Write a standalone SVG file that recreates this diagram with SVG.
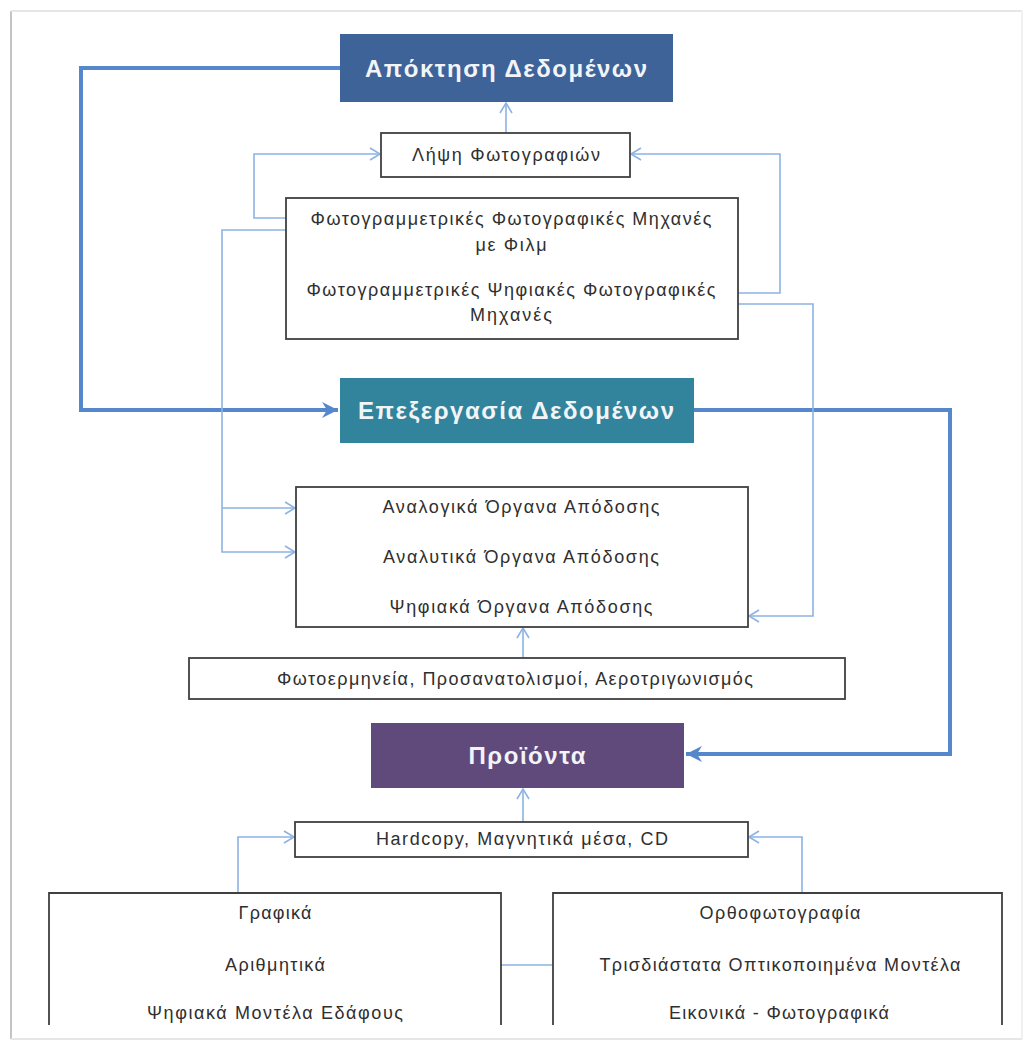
<svg xmlns="http://www.w3.org/2000/svg" width="1026" height="1041" viewBox="0 0 1026 1041">
<style>
.bg{fill:#ffffff}
.box{fill:#ffffff;stroke:#404040;stroke-width:1.8}
.obox{fill:none;stroke:#404040;stroke-width:1.8}
.t{font-family:"Liberation Sans",Arial,sans-serif;font-size:18px;fill:#2f2f2f;text-anchor:middle}
.h{font-family:"Liberation Sans",Arial,sans-serif;font-size:24px;font-weight:bold;fill:#f2f4f7;text-anchor:middle}
.thin{fill:none;stroke:#8db3e2;stroke-width:1.6}
.thick{fill:none;stroke:#5487cc;stroke-width:4}
</style>
<defs>
<marker id="a" markerUnits="userSpaceOnUse" markerWidth="14" markerHeight="16" refX="11" refY="7" orient="auto">
<path d="M1,1 L11,7 L1,13" fill="none" stroke="#8db3e2" stroke-width="1.6"/>
</marker>
<marker id="A" markerUnits="userSpaceOnUse" markerWidth="20" markerHeight="20" refX="16" refY="9" orient="auto">
<path d="M0,1 L16,9 L0,17 L5,9 Z" fill="#5487cc"/>
</marker>
</defs>
<rect class="bg" x="0" y="0" width="1026" height="1041"/>
<g id="frame">
<line x1="11" y1="11" x2="11" y2="1039" stroke="#c4c4c4" stroke-width="2"/>
<line x1="11" y1="11" x2="1022" y2="11" stroke="#e6e6e6" stroke-width="2"/>
<line x1="1022" y1="11" x2="1022" y2="1039" stroke="#f0f0f0" stroke-width="2"/>
<line x1="11" y1="1039" x2="1022" y2="1039" stroke="#e6e6e6" stroke-width="2"/>
</g>
<g id="connectors">
<path class="thick" d="M340,68 H81 V410 H338" marker-end="url(#A)"/>
<path class="thick" d="M694,410 H950 V754 H686" marker-end="url(#A)"/>
<path class="thin" d="M506,133 V103" marker-end="url(#a)"/>
<path class="thin" d="M286,218 H254 V154 H380" marker-end="url(#a)"/>
<path class="thin" d="M738,293 H780 V154 H631" marker-end="url(#a)"/>
<path class="thin" d="M286,230 H222 V552 H295" marker-end="url(#a)"/>
<path class="thin" d="M222,508 H295" marker-end="url(#a)"/>
<path class="thin" d="M738,304 H813 V616 H749" marker-end="url(#a)"/>
<path class="thin" d="M523,658 V628" marker-end="url(#a)"/>
<path class="thin" d="M523,822 V789" marker-end="url(#a)"/>
<path class="thin" d="M238,893 V837 H294" marker-end="url(#a)"/>
<path class="thin" d="M802,893 V837 H749" marker-end="url(#a)"/>
<path class="thin" d="M501,965 H553"/>
</g>
<g id="n-acquisition">
<rect x="340" y="34" width="333" height="68" fill="#3d6399"/>
<text class="h" x="506" y="77" textLength="282">Απόκτηση Δεδομένων</text>
</g>
<g id="n-photos">
<rect class="box" x="381" y="133" width="249" height="44"/>
<text class="t" x="506" y="161" textLength="188">Λήψη Φωτογραφιών</text>
</g>
<g id="n-cameras">
<rect class="box" x="286" y="198" width="452" height="141"/>
<text class="t" x="511" y="225" textLength="401">Φωτογραμμετρικές Φωτογραφικές Μηχανές</text>
<text class="t" x="511" y="251" textLength="71">με Φιλμ</text>
<text class="t" x="511" y="296" textLength="409">Φωτογραμμετρικές Ψηφιακές Φωτογραφικές</text>
<text class="t" x="511" y="321" textLength="82">Μηχανές</text>
</g>
<g id="n-processing">
<rect x="340" y="378" width="354" height="65" fill="#31849b"/>
<text class="h" x="516" y="419" textLength="316">Επεξεργασία Δεδομένων</text>
</g>
<g id="n-instruments">
<rect class="box" x="296" y="487" width="452" height="140"/>
<text class="t" x="521" y="513" textLength="277">Αναλογικά Όργανα Απόδοσης</text>
<text class="t" x="521" y="563" textLength="276">Αναλυτικά Όργανα Απόδοσης</text>
<text class="t" x="521" y="613" textLength="263">Ψηφιακά Όργανα Απόδοσης</text>
</g>
<g id="n-photointerp">
<rect class="box" x="189" y="658" width="656" height="41"/>
<text class="t" x="515" y="685" textLength="476">Φωτοερμηνεία, Προσανατολισμοί, Αεροτριγωνισμός</text>
</g>
<g id="n-products">
<rect x="371" y="723" width="313" height="65" fill="#604a7b"/>
<text class="h" x="527" y="764" textLength="117">Προϊόντα</text>
</g>
<g id="n-media">
<rect class="box" x="295" y="822" width="453" height="35"/>
<text class="t" x="522" y="845" textLength="292">Hardcopy, Μαγνητικά μέσα, CD</text>
</g>
<g id="n-left-products">
<path class="obox" d="M49,1025 V893 H501 V1025"/>
<text class="t" x="275" y="919" textLength="73">Γραφικά</text>
<text class="t" x="275" y="971" textLength="100">Αριθμητικά</text>
<text class="t" x="275" y="1019" textLength="256">Ψηφιακά Μοντέλα Εδάφους</text>
</g>
<g id="n-right-products">
<path class="obox" d="M553,1025 V893 H1002 V1025"/>
<text class="t" x="780" y="919" textLength="161">Ορθοφωτογραφία</text>
<text class="t" x="780" y="971" textLength="361">Τρισδιάστατα Οπτικοποιημένα Μοντέλα</text>
<text class="t" x="779" y="1019" textLength="220">Εικονικά - Φωτογραφικά</text>
</g>
</svg>
